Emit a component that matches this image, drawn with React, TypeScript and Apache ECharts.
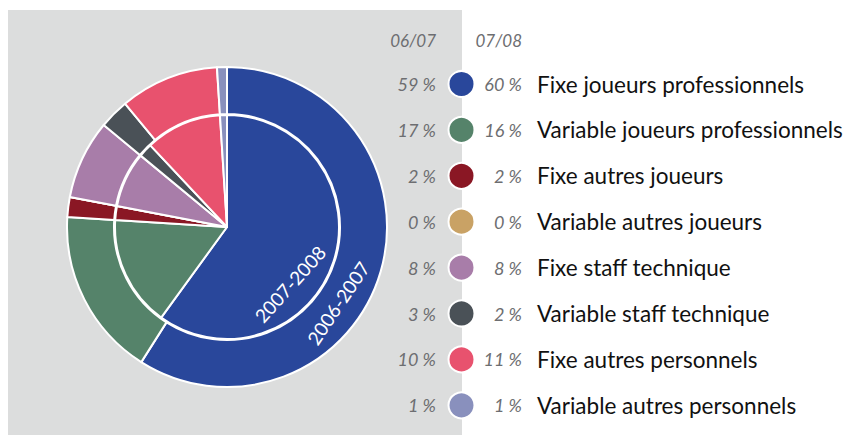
import React, { useEffect, useRef } from "react";
import * as echarts from "echarts";

const categories = [
  "Fixe joueurs professionnels",
  "Variable joueurs professionnels",
  "Fixe autres joueurs",
  "Variable autres joueurs",
  "Fixe staff technique",
  "Variable staff technique",
  "Fixe autres personnels",
  "Variable autres personnels",
];
const values0607 = [59, 17, 2, 0, 8, 3, 10, 1];
const values0708 = [60, 16, 2, 0, 8, 2, 11, 1];
const colors = ["#29479b", "#55836a", "#8a1724", "#c9a265", "#a87da9", "#4a5157", "#e8526e", "#8990bd"];
const headers = ["06/07", "07/08"];
const ringLabels = ["2006-2007", "2007-2008"];

export default function App() {
  const ref = useRef<HTMLDivElement>(null);
  useEffect(() => {
    if (!ref.current) return;
    const chart = echarts.init(ref.current, null, { renderer: "svg" });
    const cx = 227;
    const cy = 227;
    const rowY0 = 84;
    const rowGap = 45.9;
    const pctColor = "#6d6e71";
    const pctFont = "italic 18px Lato";
    const headFont = "italic 17px Lato";

    const graphic: any[] = [
      {
        type: "rect",
        z: -10,
        shape: { x: 8, y: 10, width: 454, height: 425 },
        style: { fill: "#dcdddd" },
      },
      {
        type: "text",
        x: 436,
        y: 40,
        style: { text: headers[0], font: headFont, fill: pctColor, textAlign: "right", textVerticalAlign: "middle" },
      },
      {
        type: "text",
        x: 522,
        y: 40,
        style: { text: headers[1], font: headFont, fill: pctColor, textAlign: "right", textVerticalAlign: "middle" },
      },
    ];
    categories.forEach((name, i) => {
      const y = rowY0 + i * rowGap;
      graphic.push(
        {
          type: "text",
          x: 436,
          y,
          style: { text: values0607[i] + " %", font: pctFont, fill: pctColor, textAlign: "right", textVerticalAlign: "middle" },
        },
        {
          type: "circle",
          z: 5,
          shape: { cx: 461.5, cy: y, r: 13 },
          style: { fill: colors[i], stroke: "#ffffff", lineWidth: 2 },
        },
        {
          type: "text",
          x: 522,
          y,
          style: { text: values0708[i] + " %", font: pctFont, fill: pctColor, textAlign: "right", textVerticalAlign: "middle" },
        },
        {
          type: "text",
          x: 537,
          y,
          style: { text: name, font: "22.5px Lato", fill: "#111111", textAlign: "left", textVerticalAlign: "middle" },
        }
      );
    });
    const deg = Math.PI / 180;
    graphic.push(
      {
        type: "text",
        z: 10,
        x: 338,
        y: 303,
        rotation: 56 * deg,
        style: { text: ringLabels[0], font: "19px Lato", fill: "#ffffff", textAlign: "center", textVerticalAlign: "middle" },
      },
      {
        type: "text",
        z: 10,
        x: 290,
        y: 284,
        rotation: 48 * deg,
        style: { text: ringLabels[1], font: "19px Lato", fill: "#ffffff", textAlign: "center", textVerticalAlign: "middle" },
      }
    );

    const mk = (vals: number[]) =>
      categories.map((name, i) => ({ name, value: vals[i], itemStyle: { color: colors[i] } }));

    chart.setOption({
      animation: false,
      graphic,
      series: [
        {
          type: "pie",
          center: [cx, cy],
          radius: [113, 160],
          startAngle: 90,
          clockwise: true,
          label: { show: false },
          labelLine: { show: false },
          silent: true,
          itemStyle: { borderColor: "#ffffff", borderWidth: 2 },
          data: mk(values0607),
        },
        {
          type: "pie",
          center: [cx, cy],
          radius: [0, 112],
          startAngle: 90,
          clockwise: true,
          label: { show: false },
          labelLine: { show: false },
          silent: true,
          itemStyle: { borderColor: "#ffffff", borderWidth: 2 },
          data: mk(values0708),
        },
      ],
    });
    return () => chart.dispose();
  }, []);
  return (
    <div
      ref={ref}
      style={{ position: "absolute", left: 0, top: 0, width: 850, height: 435 }}
    />
  );
}
